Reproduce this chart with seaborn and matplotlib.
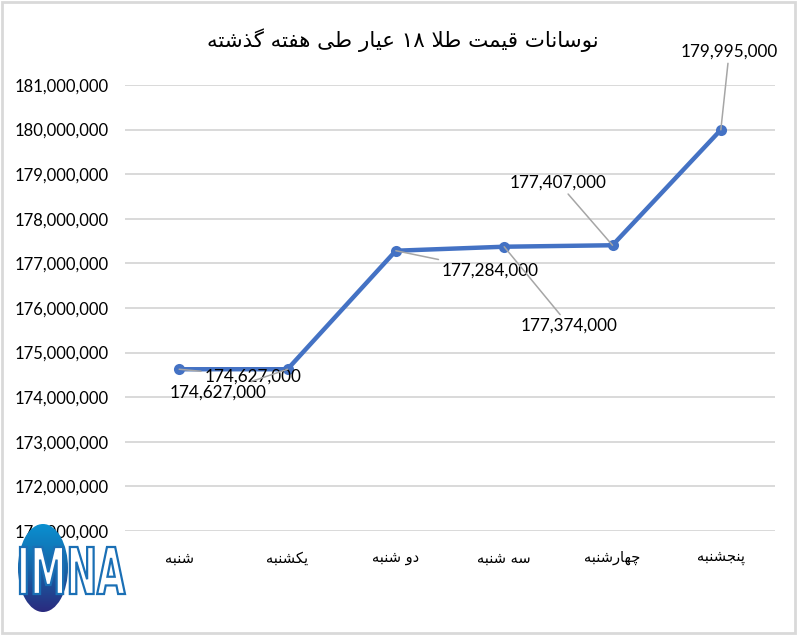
import numpy as np
import pandas as pd
import matplotlib
matplotlib.use("Agg")
import matplotlib.pyplot as plt
import seaborn as sns
from matplotlib.patches import Ellipse, Rectangle, PathPatch
from matplotlib.textpath import TextPath
from matplotlib.font_manager import FontProperties
from matplotlib.ticker import FuncFormatter, MultipleLocator
from matplotlib.transforms import Affine2D
from matplotlib.colors import LinearSegmentedColormap

# ---------------- data ----------------
title_text = "نوسانات قیمت طلا ۱۸ عیار طی هفته گذشته"
days = ["شنبه", "یکشنبه", "دو شنبه", "سه شنبه", "چهارشنبه", "پنجشنبه"]
prices = [174627000, 174627000, 177284000, 177374000, 177407000, 179995000]
y_min, y_max, y_step = 171000000, 181000000, 1000000
logo_text = "IMNA"

# label offsets (points) — styling only
label_offsets = [(53, -5), (-50, -17), (68, -14), (47, -57), (-39, 45), (6, 56)]

# ---------------- Arabic/Persian shaping ----------------
FORMS = {
    "\u0627": ("\uFE8D", "\uFE8E", None, None),
    "\u0628": ("\uFE8F", "\uFE90", "\uFE91", "\uFE92"),
    "\u062A": ("\uFE95", "\uFE96", "\uFE97", "\uFE98"),
    "\u062C": ("\uFE9D", "\uFE9E", "\uFE9F", "\uFEA0"),
    "\u062F": ("\uFEA9", "\uFEAA", None, None),
    "\u0630": ("\uFEAB", "\uFEAC", None, None),
    "\u0631": ("\uFEAD", "\uFEAE", None, None),
    "\u0633": ("\uFEB1", "\uFEB2", "\uFEB3", "\uFEB4"),
    "\u0634": ("\uFEB5", "\uFEB6", "\uFEB7", "\uFEB8"),
    "\u0637": ("\uFEC1", "\uFEC2", "\uFEC3", "\uFEC4"),
    "\u0639": ("\uFEC9", "\uFECA", "\uFECB", "\uFECC"),
    "\u0641": ("\uFED1", "\uFED2", "\uFED3", "\uFED4"),
    "\u0642": ("\uFED5", "\uFED6", "\uFED7", "\uFED8"),
    "\u0644": ("\uFEDD", "\uFEDE", "\uFEDF", "\uFEE0"),
    "\u0645": ("\uFEE1", "\uFEE2", "\uFEE3", "\uFEE4"),
    "\u0646": ("\uFEE5", "\uFEE6", "\uFEE7", "\uFEE8"),
    "\u0647": ("\uFEE9", "\uFEEA", "\uFEEB", "\uFEEC"),
    "\u0648": ("\uFEED", "\uFEEE", None, None),
    "\u067E": ("\uFB56", "\uFB57", "\uFB58", "\uFB59"),
    "\u0686": ("\uFB7A", "\uFB7B", "\uFB7C", "\uFB7D"),
    "\u06A9": ("\uFB8E", "\uFB8F", "\uFB90", "\uFB91"),
    "\u06AF": ("\uFB92", "\uFB93", "\uFB94", "\uFB95"),
    "\u06CC": ("\uFBFC", "\uFBFD", "\uFBFE", "\uFBFF"),
    "LA": ("\uFEFB", "\uFEFC", None, None),
}


def _shape(text):
    toks = []
    i = 0
    while i < len(text):
        if text[i] == "\u0644" and i + 1 < len(text) and text[i + 1] == "\u0627":
            toks.append("LA")
            i += 2
        else:
            toks.append(text[i])
            i += 1
    is_ar = lambda c: c in FORMS
    dual = lambda c: c in FORMS and FORMS[c][2] is not None
    out = []
    for k, t in enumerate(toks):
        if not is_ar(t):
            out.append(t)
            continue
        pj = k > 0 and dual(toks[k - 1])
        nj = dual(t) and k + 1 < len(toks) and is_ar(toks[k + 1])
        f = FORMS[t]
        if pj and nj:
            out.append(f[3])
        elif pj:
            out.append(f[1])
        elif nj:
            out.append(f[2])
        else:
            out.append(f[0])
    return "".join(out)


def fa(text):
    s = _shape(text)
    runs, cur, cur_d = [], "", None
    for ch in s:
        d = ch.isdigit()
        if cur and d != cur_d:
            runs.append((cur, cur_d))
            cur = ""
        cur += ch
        cur_d = d
    if cur:
        runs.append((cur, cur_d))
    vis = []
    for r, d in reversed(runs):
        vis.append(r if d else r[::-1])
    return "".join(vis)


# ---------------- plot ----------------
sns.set_theme(style="white")
plt.rcParams["font.family"] = ["Lato", "DejaVu Sans"]

day_labels = [fa(d) for d in days]
df = pd.DataFrame({"day": day_labels, "price": prices})

fig = plt.figure(figsize=(8, 6.36), dpi=100)
ax = fig.add_axes([125 / 800, 1 - 531 / 636, 650 / 800, 446 / 636])

line_color = "#4472C4"
sns.lineplot(data=df, x="day", y="price", sort=False, ax=ax, color=line_color,
             lw=3.2, marker="o", markersize=8, markeredgecolor=line_color,
             markeredgewidth=0, zorder=3)

ax.set_xlim(-0.5, len(days) - 0.5)
ax.set_ylim(y_min, y_max)
ax.yaxis.set_major_locator(MultipleLocator(y_step))
ax.yaxis.set_major_formatter(FuncFormatter(lambda v, p: f"{v:,.0f}"))
ax.grid(False)
ax.yaxis.grid(True, color="#d9d9d9", lw=1.4, zorder=0)
for s in ax.spines.values():
    s.set_visible(False)
ax.set_xlabel("")
ax.set_ylabel("")
ax.tick_params(axis="y", length=0, pad=12, labelsize=12, labelcolor="#000000")
ax.tick_params(axis="x", length=0, pad=14)
ax.set_xticks(range(len(days)))
ax.set_xticklabels(day_labels, fontfamily=["DejaVu Sans"], fontsize=10.5, color="#000000")

for i, (v, off) in enumerate(zip(prices, label_offsets)):
    ax.annotate(f"{v:,.0f}", xy=(i, v), xytext=off, textcoords="offset points",
                ha="center", va="center", fontsize=12.3, color="#000000",
                arrowprops=dict(arrowstyle="-", color="#a6a6a6", lw=1.1,
                                shrinkA=0, shrinkB=0), zorder=4)

fig.text(403 / 800, 1 - 40 / 636, fa(title_text), ha="center", va="center",
         fontsize=15.4, family=["DejaVu Sans"], color="#000000")

# frame
fig.add_artist(Rectangle((2 / 800, 3 / 636), 793 / 800, 631 / 636, transform=fig.transFigure,
                         fill=False, edgecolor="#d9d9d9", lw=2))

# ---------------- logo ----------------
lax = fig.add_axes([10 / 800, 1 - 622 / 636, 125 / 800, 107 / 636])
lax.set_xlim(10, 135)
lax.set_ylim(14, 121)  # y measured upward: 636 - pixel_y
lax.axis("off")
ell = Ellipse((43, 636 - 568), 50, 88, transform=lax.transData)
grad = np.linspace(0, 1, 256).reshape(-1, 1)
cm = LinearSegmentedColormap.from_list("imna", ["#2b2a7e", "#1565a8", "#0a90d0"])
im = lax.imshow(grad, extent=(18, 68, 636 - 612, 636 - 524), origin="lower",
                cmap=cm, aspect="auto", zorder=1)
im.set_clip_path(ell)
tp = TextPath((0, 0), logo_text, size=1, prop=FontProperties(family="DejaVu Sans", weight="bold"))
ext = tp.get_extents()
x0, x1, yb, yt = 20, 125, 636 - 594, 636 - 547
tr = (Affine2D().translate(-ext.x0, -ext.y0)
      .scale((x1 - x0) / ext.width, (yt - yb) / ext.height).translate(x0, yb))
lax.add_patch(PathPatch(tr.transform_path(tp), facecolor="white", edgecolor="#1a6fb5",
                        lw=1.6, zorder=2))
lax.set_zorder(10)

fig.savefig("out.png", dpi=100)
